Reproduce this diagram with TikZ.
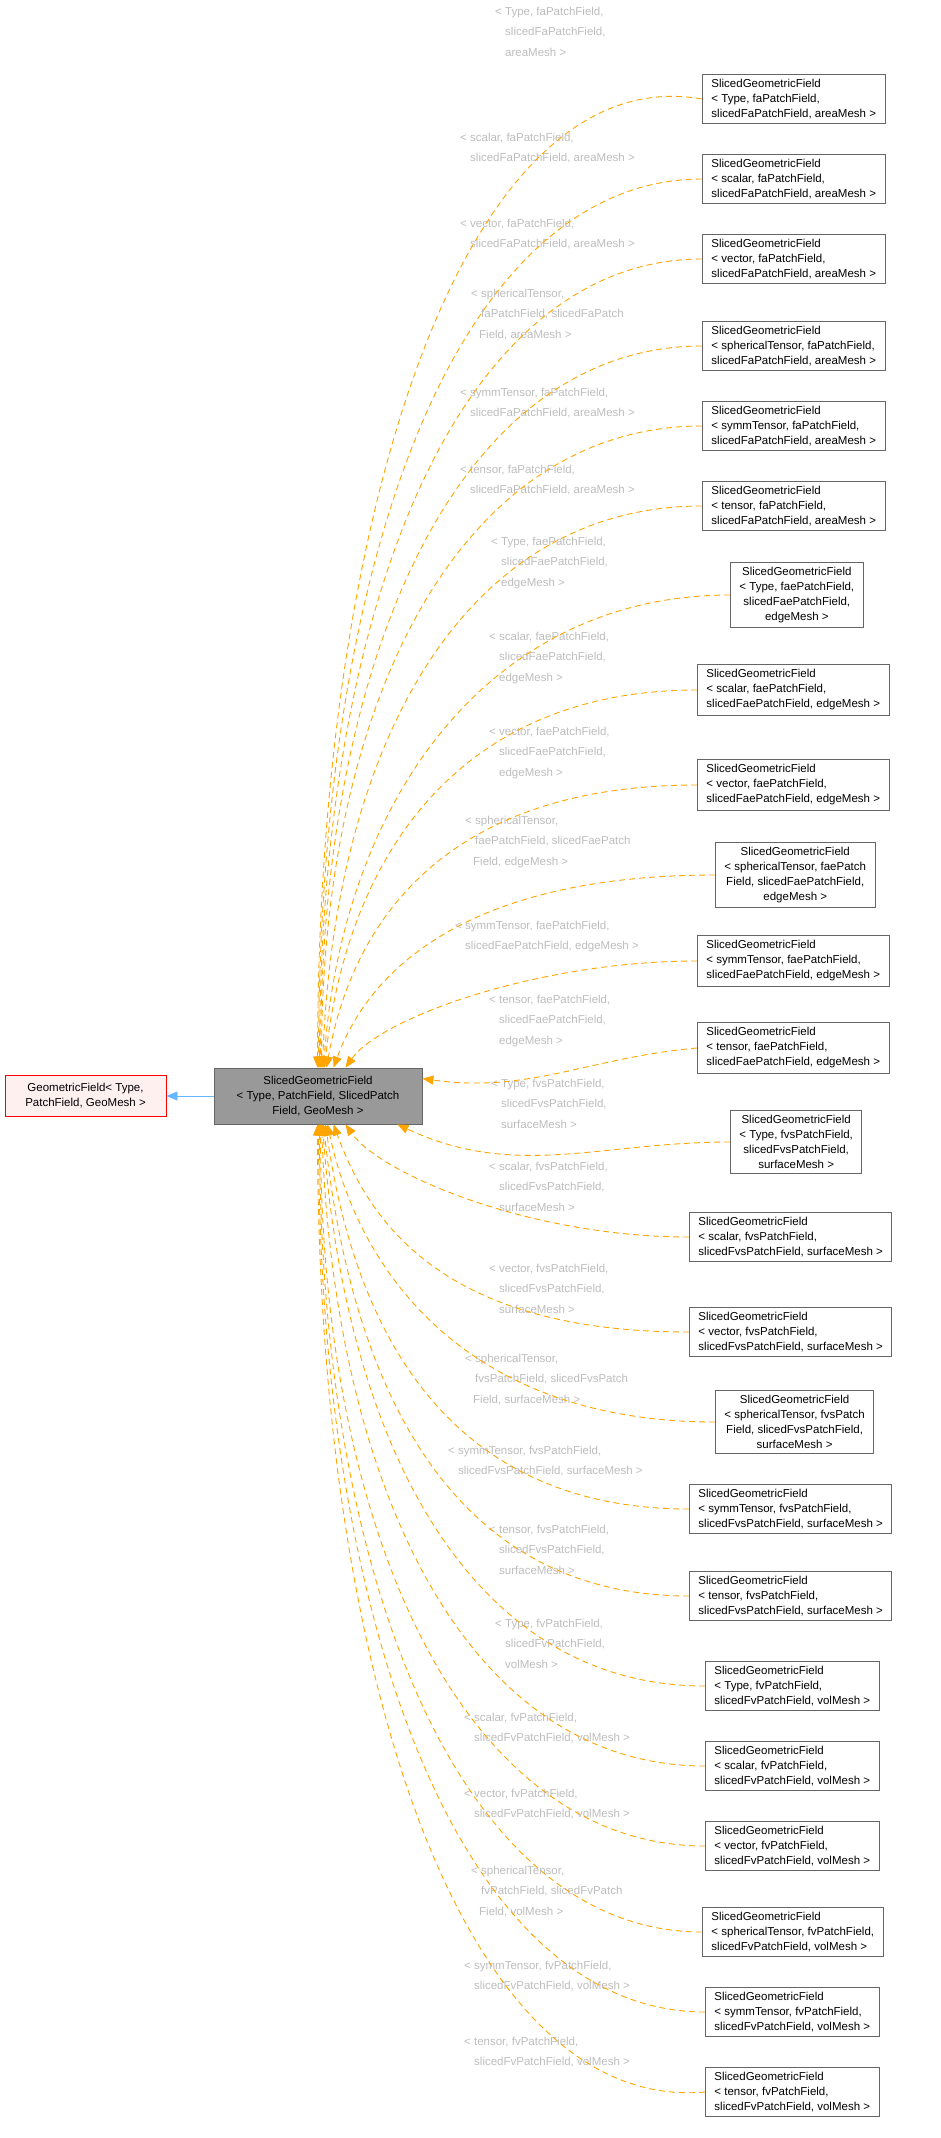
\documentclass[tikz,border=0pt]{standalone}
\usepackage{fontspec}
\setmainfont{Liberation Sans}
\usepackage{tikz}
\usetikzlibrary{arrows.meta, positioning, calc}

\definecolor{depline}{HTML}{FFA500}
\definecolor{lblgray}{HTML}{BDBDBD}
\definecolor{inhline}{HTML}{63B8FF}
\newcommand{\ind}{\hspace*{10pt}}

\tikzset{
  cls/.style={draw=black!60, fill=white, line width=0.9pt, font=\fontsize{11.5}{15}\selectfont,
              inner xsep=9pt, inner ysep=5pt, anchor=west, align=left},
  cls4/.style={cls, align=center},
  dep/.style={depline, dashed, dash pattern=on 6pt off 4pt, line width=0.9pt,
              -{Triangle[width=9pt,length=11pt]}},
  bend/.style={out=180, out distance=240pt, in distance=#1},
  lbl/.style={lblgray, font=\fontsize{11.5}{20.3}\selectfont, anchor=north west, align=left, inner sep=0pt}
}

\begin{document}
\begin{tikzpicture}[x=1pt, y=-1pt]
  \useasboundingbox (0,0) rectangle (940,2138);

  % base classes
  \node[draw=red, fill=red!6, line width=0.9pt, font=\fontsize{11.5}{15}\selectfont, align=center,
        minimum width=161pt, minimum height=41pt] (geo) at (85.5,1096) {GeometricField< Type,\\ PatchField, GeoMesh >};
  \node[draw=black!60, fill=black!40, line width=0.9pt, font=\fontsize{11.5}{15}\selectfont, align=center,
        minimum width=208pt, minimum height=56pt] (sliced) at (318,1096) {SlicedGeometricField\\< Type, PatchField, SlicedPatch\\Field, GeoMesh >};
  \draw[inhline, line width=0.9pt, -{Triangle[width=9pt,length=11pt]}] (sliced) -- (geo);

  % faPatchField
  \node[cls] (faType) at (702,99) {SlicedGeometricField\\< Type, faPatchField,\\ slicedFaPatchField, areaMesh >};
  \node[cls] (faScalar) at (702,179) {SlicedGeometricField\\< scalar, faPatchField,\\ slicedFaPatchField, areaMesh >};
  \node[cls] (faVector) at (702,259) {SlicedGeometricField\\< vector, faPatchField,\\ slicedFaPatchField, areaMesh >};
  \node[cls] (faSph) at (702,346) {SlicedGeometricField\\< sphericalTensor, faPatchField,\\ slicedFaPatchField, areaMesh >};
  \node[cls] (faSymm) at (702,426) {SlicedGeometricField\\< symmTensor, faPatchField,\\ slicedFaPatchField, areaMesh >};
  \node[cls] (faTensor) at (702,506) {SlicedGeometricField\\< tensor, faPatchField,\\ slicedFaPatchField, areaMesh >};

  % faePatchField
  \node[cls4] (faeType) at (730,595) {SlicedGeometricField\\< Type, faePatchField,\\slicedFaePatchField,\\edgeMesh >};
  \node[cls] (faeScalar) at (697,690) {SlicedGeometricField\\< scalar, faePatchField,\\ slicedFaePatchField, edgeMesh >};
  \node[cls] (faeVector) at (697,785) {SlicedGeometricField\\< vector, faePatchField,\\ slicedFaePatchField, edgeMesh >};
  \node[cls4] (faeSph) at (715,875) {SlicedGeometricField\\< sphericalTensor, faePatch\\Field, slicedFaePatchField,\\edgeMesh >};
  \node[cls] (faeSymm) at (697,961) {SlicedGeometricField\\< symmTensor, faePatchField,\\ slicedFaePatchField, edgeMesh >};
  \node[cls] (faeTensor) at (697,1048) {SlicedGeometricField\\< tensor, faePatchField,\\ slicedFaePatchField, edgeMesh >};

  % fvsPatchField
  \node[cls4] (fvsType) at (730,1142) {SlicedGeometricField\\< Type, fvsPatchField,\\slicedFvsPatchField,\\surfaceMesh >};
  \node[cls] (fvsScalar) at (689,1237) {SlicedGeometricField\\< scalar, fvsPatchField,\\ slicedFvsPatchField, surfaceMesh >};
  \node[cls] (fvsVector) at (689,1332) {SlicedGeometricField\\< vector, fvsPatchField,\\ slicedFvsPatchField, surfaceMesh >};
  \node[cls4] (fvsSph) at (715,1422) {SlicedGeometricField\\< sphericalTensor, fvsPatch\\Field, slicedFvsPatchField,\\surfaceMesh >};
  \node[cls] (fvsSymm) at (689,1509) {SlicedGeometricField\\< symmTensor, fvsPatchField,\\ slicedFvsPatchField, surfaceMesh >};
  \node[cls] (fvsTensor) at (689,1596) {SlicedGeometricField\\< tensor, fvsPatchField,\\ slicedFvsPatchField, surfaceMesh >};

  % fvPatchField
  \node[cls] (fvType) at (705,1686) {SlicedGeometricField\\< Type, fvPatchField,\\ slicedFvPatchField, volMesh >};
  \node[cls] (fvScalar) at (705,1766) {SlicedGeometricField\\< scalar, fvPatchField,\\ slicedFvPatchField, volMesh >};
  \node[cls] (fvVector) at (705,1846) {SlicedGeometricField\\< vector, fvPatchField,\\ slicedFvPatchField, volMesh >};
  \node[cls] (fvSph) at (702,1932) {SlicedGeometricField\\< sphericalTensor, fvPatchField,\\ slicedFvPatchField, volMesh >};
  \node[cls] (fvSymm) at (705,2012) {SlicedGeometricField\\< symmTensor, fvPatchField,\\ slicedFvPatchField, volMesh >};
  \node[cls] (fvTensor) at (705,2092) {SlicedGeometricField\\< tensor, fvPatchField,\\ slicedFvPatchField, volMesh >};

  % template argument labels
  \node[lbl] (lfaType) at (495,7) {< Type, faPatchField,\\\ind slicedFaPatchField,\\\ind areaMesh >};
  \node[lbl] (lfaScalar) at (460,133) {< scalar, faPatchField,\\\ind slicedFaPatchField, areaMesh >};
  \node[lbl] (lfaVector) at (460,219) {< vector, faPatchField,\\\ind slicedFaPatchField, areaMesh >};
  \node[lbl] (lfaSph) at (471,289) {< sphericalTensor,\\\ind faPatchField, slicedFaPatch\\\hspace*{8pt}Field, areaMesh >};
  \node[lbl] (lfaSymm) at (460,388) {< symmTensor, faPatchField,\\\ind slicedFaPatchField, areaMesh >};
  \node[lbl] (lfaTensor) at (460,465) {< tensor, faPatchField,\\\ind slicedFaPatchField, areaMesh >};
  \node[lbl] (lfaeType) at (491,537) {< Type, faePatchField,\\\ind slicedFaePatchField,\\\ind edgeMesh >};
  \node[lbl] (lfaeScalar) at (489,632) {< scalar, faePatchField,\\\ind slicedFaePatchField,\\\ind edgeMesh >};
  \node[lbl] (lfaeVector) at (489,727) {< vector, faePatchField,\\\ind slicedFaePatchField,\\\ind edgeMesh >};
  \node[lbl] (lfaeSph) at (465,816) {< sphericalTensor,\\\ind faePatchField, slicedFaePatch\\\hspace*{8pt}Field, edgeMesh >};
  \node[lbl] (lfaeSymm) at (455,921) {< symmTensor, faePatchField,\\\ind slicedFaePatchField, edgeMesh >};
  \node[lbl] (lfaeTensor) at (489,995) {< tensor, faePatchField,\\\ind slicedFaePatchField,\\\ind edgeMesh >};
  \node[lbl] (lfvsType) at (491,1079) {< Type, fvsPatchField,\\\ind slicedFvsPatchField,\\\ind surfaceMesh >};
  \node[lbl] (lfvsScalar) at (489,1162) {< scalar, fvsPatchField,\\\ind slicedFvsPatchField,\\\ind surfaceMesh >};
  \node[lbl] (lfvsVector) at (489,1264) {< vector, fvsPatchField,\\\ind slicedFvsPatchField,\\\ind surfaceMesh >};
  \node[lbl] (lfvsSph) at (465,1354) {< sphericalTensor,\\\ind fvsPatchField, slicedFvsPatch\\\hspace*{8pt}Field, surfaceMesh >};
  \node[lbl] (lfvsSymm) at (448,1446) {< symmTensor, fvsPatchField,\\\ind slicedFvsPatchField, surfaceMesh >};
  \node[lbl] (lfvsTensor) at (489,1525) {< tensor, fvsPatchField,\\\ind slicedFvsPatchField,\\\ind surfaceMesh >};
  \node[lbl] (lfvType) at (495,1619) {< Type, fvPatchField,\\\ind slicedFvPatchField,\\\ind volMesh >};
  \node[lbl] (lfvScalar) at (464,1713) {< scalar, fvPatchField,\\\ind slicedFvPatchField, volMesh >};
  \node[lbl] (lfvVector) at (464,1789) {< vector, fvPatchField,\\\ind slicedFvPatchField, volMesh >};
  \node[lbl] (lfvSph) at (471,1866) {< sphericalTensor,\\\ind fvPatchField, slicedFvPatch\\\hspace*{8pt}Field, volMesh >};
  \node[lbl] (lfvSymm) at (464,1961) {< symmTensor, fvPatchField,\\\ind slicedFvPatchField, volMesh >};
  \node[lbl] (lfvTensor) at (464,2037) {< tensor, fvPatchField,\\\ind slicedFvPatchField, volMesh >};

  % dependency edges, into the top of the sliced class
  \draw[dep] (faType.west) to[bend=560pt, out=170, in=90] ($(sliced.north west)+(104,0)$);
  \draw[dep] (faScalar.west) to[bend=520pt, in=90] ($(sliced.north west)+(105,0)$);
  \draw[dep] (faVector.west) to[bend=470pt, in=90] ($(sliced.north west)+(106,0)$);
  \draw[dep] (faSph.west) to[bend=420pt, in=90] ($(sliced.north west)+(107,0)$);
  \draw[dep] (faSymm.west) to[bend=370pt, in=90] ($(sliced.north west)+(108,0)$);
  \draw[dep] (faTensor.west) to[bend=320pt, in=88] ($(sliced.north west)+(109,0)$);
  \draw[dep] (faeType.west) to[bend=270pt, in=86] ($(sliced.north west)+(110,0)$);
  \draw[dep] (faeScalar.west) to[bend=210pt, in=84] ($(sliced.north west)+(111,0)$);
  \draw[dep] (faeVector.west) to[bend=160pt, in=80] ($(sliced.north west)+(113,0)$);
  \draw[dep] (faeSph.west) to[bend=110pt, in=70] ($(sliced.north west)+(120,0)$);
  \draw[dep] (faeSymm.west) to[out=180, in=55, out distance=160pt, in distance=60pt] ($(sliced.north west)+(132,0)$);
  % into the sides
  \draw[dep] (faeTensor.west) to[out=185, in=-8] ($(sliced.north east)+(0,11)$);
  \draw[dep] (fvsType.west) to[out=180, in=-25] ($(sliced.south east)+(-25,0)$);
  % into the bottom
  \draw[dep] (fvsScalar.west) to[out=180, in=-55, out distance=160pt, in distance=60pt] ($(sliced.south west)+(132,0)$);
  \draw[dep] (fvsVector.west) to[bend=110pt, in=-70] ($(sliced.south west)+(120,0)$);
  \draw[dep] (fvsSph.west) to[bend=160pt, in=-78] ($(sliced.south west)+(114,0)$);
  \draw[dep] (fvsSymm.west) to[bend=210pt, in=-82] ($(sliced.south west)+(112,0)$);
  \draw[dep] (fvsTensor.west) to[bend=260pt, in=-84] ($(sliced.south west)+(110,0)$);
  \draw[dep] (fvType.west) to[bend=310pt, in=-86] ($(sliced.south west)+(109,0)$);
  \draw[dep] (fvScalar.west) to[bend=360pt, in=-88] ($(sliced.south west)+(108,0)$);
  \draw[dep] (fvVector.west) to[bend=410pt, in=-90] ($(sliced.south west)+(107,0)$);
  \draw[dep] (fvSph.west) to[bend=460pt, in=-90] ($(sliced.south west)+(106,0)$);
  \draw[dep] (fvSymm.west) to[bend=510pt, in=-90] ($(sliced.south west)+(105,0)$);
  \draw[dep] (fvTensor.west) to[bend=560pt, out=185, in=-90] ($(sliced.south west)+(104,0)$);
\end{tikzpicture}
\end{document}
